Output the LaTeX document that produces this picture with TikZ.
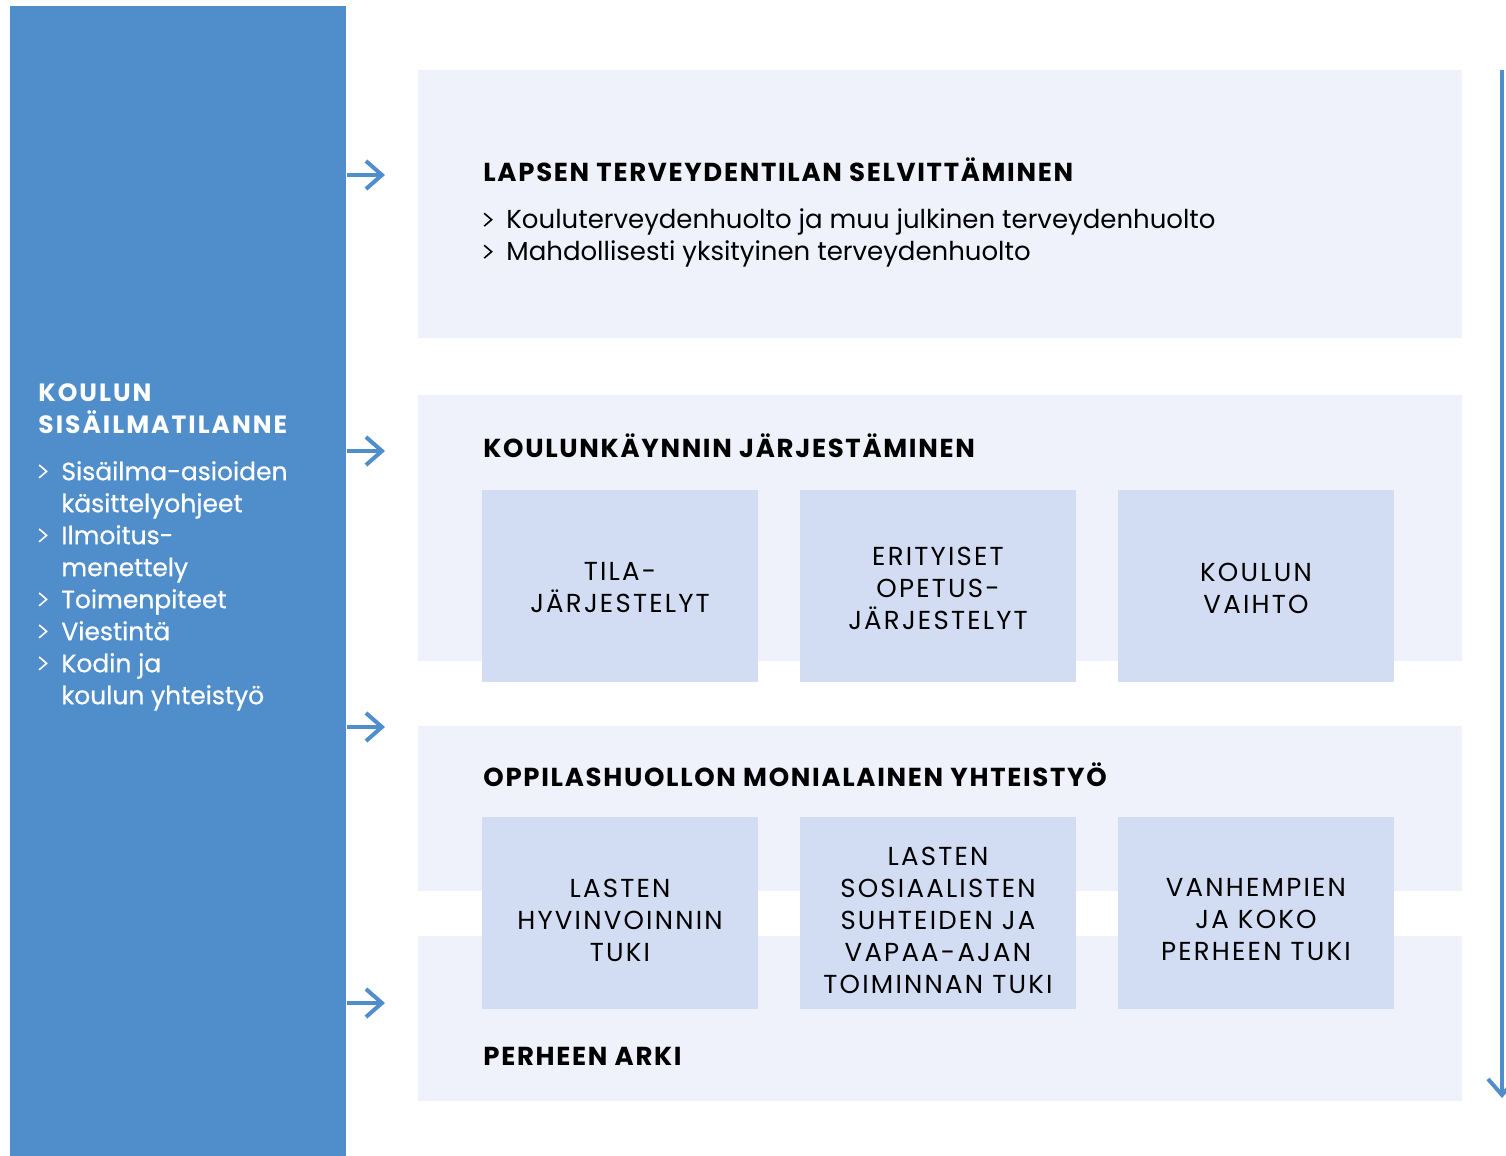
\documentclass[tikz,border=0pt]{standalone}
\usepackage{fontspec}
\setmainfont{Poppins}
\newfontfamily\medfont{Poppins}[FakeBold=0.6]
\newfontfamily\headfont{Poppins}[LetterSpace=6.5]
\newfontfamily\boxfont{Poppins}[LetterSpace=8.5]
\newfontfamily\leftcaps{Poppins}[LetterSpace=8]
\usetikzlibrary{arrows.meta}

\definecolor{panelblue}{RGB}{79,142,203}
\definecolor{boxlight}{RGB}{239,242,251}
\definecolor{boxdark}{RGB}{210,220,242}

% chevron used for the list items
\newcommand{\chevmark}{\tikz[baseline=0pt, x=1pt, y=1pt]\draw[line width=0.8pt] (0.3,1.2) -- (4,4.4) -- (0.3,7.6);}
\newcommand{\chev}{\makebox[11.5pt][l]{\chevmark}}

\tikzset{
  flowarrow/.style={draw=panelblue, line width=2pt, -{Straight Barb[length=8pt, width=14pt]}},
  subbox/.style={fill=boxdark, inner sep=0, minimum width=138pt, minimum height=96pt},
  boxtext/.style={inner sep=0, align=center, font=\boxfont\fontsize{13}{16}\selectfont},
  heading/.style={anchor=base west, inner sep=0, font=\headfont\bfseries\fontsize{13}{16}\selectfont},
  bullet/.style={anchor=base west, inner sep=0, font=\fontsize{13}{16}\selectfont},
}

\begin{document}
\begin{tikzpicture}[x=0.5pt, y=-0.5pt]
\useasboundingbox (0,0) rectangle (1506,1156);
\clip (0,0) rectangle (1506,1156);

% Left panel
\node[fill=panelblue, inner sep=0, minimum width=168pt, minimum height=575pt, anchor=north west] (panel) at (10,6) {};
\node[anchor=north west, inner sep=0, align=left, text=white, font=\medfont\fontsize{12.5}{16}\selectfont] (paneltext) at (38,383)
  {{\leftcaps\bfseries KOULUN}\\ {\leftcaps\bfseries SISÄILMATILANNE}\\[7.5pt]
   \chev Sisäilma-asioiden\\ \hspace*{11.5pt}käsittelyohjeet\\
   \chev Ilmoitus-\\ \hspace*{11.5pt}menettely\\
   \chev Toimenpiteet\\
   \chev Viestintä\\
   \chev Kodin ja\\ \hspace*{11.5pt}koulun yhteistyö};

% Background boxes
\fill[boxlight] (418,70) rectangle (1462,338);
\fill[boxlight] (418,395) rectangle (1462,661);
\fill[boxlight] (418,726) rectangle (1462,891);
\fill[boxlight] (418,936) rectangle (1462,1101);

% Headings
\node[heading] (health) at (483,181.5) {LAPSEN TERVEYDENTILAN SELVITTÄMINEN};
\node[bullet] (health1) at (483,228.5) {\chev Kouluterveydenhuolto ja muu julkinen terveydenhuolto};
\node[bullet] (health2) at (483,260.5) {\chev Mahdollisesti yksityinen terveydenhuolto};
\node[heading] (school) at (483,457.5) {KOULUNKÄYNNIN JÄRJESTÄMINEN};
\node[heading] (welfare) at (483,786.5) {OPPILASHUOLLON MONIALAINEN YHTEISTYÖ};
\node[heading] (family) at (483,1065.5) {PERHEEN ARKI};

% Sub boxes
\node[subbox] (tila) at (620,586) {};
\node[subbox] (opetus) at (938,586) {};
\node[subbox] (vaihto) at (1256,586) {};
\node[subbox] (hyvin) at (620,913) {};
\node[subbox] (sosiaal) at (938,913) {};
\node[subbox] (perhe) at (1256,913) {};

\node[boxtext] (tilatxt) at ([yshift=-1pt]tila.center) {TILA-\\JÄRJESTELYT};
\node[boxtext] (opetustxt) at ([yshift=-1pt]opetus.center) {ERITYISET\\OPETUS-\\JÄRJESTELYT};
\node[boxtext] (vaihtotxt) at ([yshift=-1pt]vaihto.center) {KOULUN\\VAIHTO};
\node[boxtext] (hyvintxt) at ([yshift=-3.5pt]hyvin.center) {LASTEN\\HYVINVOINNIN\\TUKI};
\node[boxtext] (sosiaaltxt) at ([yshift=-3.5pt]sosiaal.center) {LASTEN\\SOSIAALISTEN\\SUHTEIDEN JA\\VAPAA-AJAN\\TOIMINNAN TUKI};
\node[boxtext] (perhetxt) at ([yshift=-3.5pt]perhe.center) {VANHEMPIEN\\JA KOKO\\PERHEEN TUKI};

% Arrows
\coordinate (a1) at (385,175);
\coordinate (a2) at (385,451);
\coordinate (a3) at (385,727);
\coordinate (a4) at (385,1003);
\foreach \a in {a1,a2,a3,a4}
  \draw[flowarrow] (panel.east |- \a) -- (\a);

% Time line on the right
\coordinate (ttop) at (1502,70);
\coordinate (tend) at (1502,1098);
\draw[flowarrow] (ttop) -- (tend);

\end{tikzpicture}
\end{document}
